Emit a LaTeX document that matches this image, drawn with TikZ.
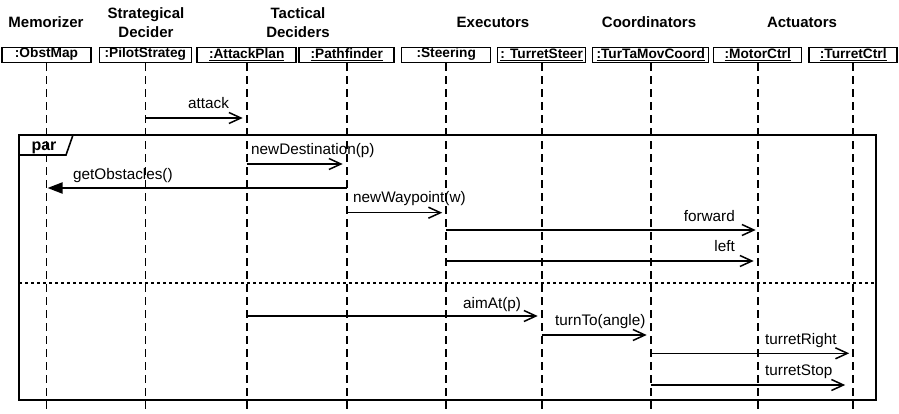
\documentclass[tikz,border=0pt]{standalone}
\usepackage{fontspec}
\setmainfont{Liberation Sans}
\usetikzlibrary{arrows.meta}
\begin{document}
\begin{tikzpicture}[x=1pt,y=-1pt,
  heading/.style={font=\fontsize{15}{19.5}\selectfont\bfseries, align=center, inner sep=0pt},
  obj/.style={draw, line width=1.5pt, minimum height=15pt, inner sep=0pt,
    font=\fontsize{13.7}{16}\selectfont\bfseries},
  lifeline/.style={line width=1.6pt, dash pattern=on 8pt off 5pt},
  msg/.style={line width=1.5pt, -{Straight Barb[length=12pt,width=11pt,line width=1.5pt]}, shorten >=4pt},
  syncmsg/.style={line width=2pt, -{Triangle[length=15pt,width=11pt]}, shorten >=1pt},
  lbl/.style={font=\fontsize{15.3}{18}\selectfont, inner sep=0pt, anchor=base west},
  lblr/.style={lbl, anchor=base east},
  frame/.style={line width=1.6pt},
  divider/.style={line width=1.5pt, dash pattern=on 3pt off 3pt}
]
\useasboundingbox (0,0) rectangle (899,414);

% group headings
\node[heading] (hmem)   at (46,22.5)  {Memorizer};
\node[heading] (hstrat) at (146,22.5) {Strategical\\Decider};
\node[heading] (htact)  at (298,22.5) {Tactical\\Deciders};
\node[heading] (hexec)  at (493,22.5) {Executors};
\node[heading] (hcoord) at (649,22.5) {Coordinators};
\node[heading] (hact)   at (802,22.5) {Actuators};

% objects
\node[obj, minimum width=89pt]  (obst)   at (46.5,55)  {\underline{:ObstMap}};
\node[obj, minimum width=92pt]  (pilot)  at (145.3,55) {\underline{:PilotStrateg}};
\node[obj, minimum width=99pt]  (attack) at (246.7,55) {\underline{:AttackPlan}};
\node[obj, minimum width=95pt]  (path)   at (346.7,55) {\underline{:Pathfinder}};
\node[obj, minimum width=89pt]  (steer)  at (446.2,55) {\underline{:Steering}};
\node[obj, minimum width=88pt]  (tsteer) at (541.7,55) {\underline{: TurretSteer}};
\node[obj, minimum width=116pt] (coord)  at (650.7,55) {\underline{:TurTaMovCoord}};
\node[obj, minimum width=88pt]  (motor)  at (757.7,55) {\underline{:MotorCtrl}};
\node[obj, minimum width=88pt]  (turret) at (853.2,55) {\underline{:TurretCtrl}};

% lifelines
\foreach \o in {obst,pilot,attack,path,steer,tsteer,coord,motor,turret}
  \draw[lifeline] (\o.south) -- (\o.south |- 0,414);

% message before the fragment
\draw[msg] (pilot.south |- 0,118) -- (attack.south |- 0,118);
\node[lbl] (lattack) at (188,109) {attack};

% par fragment
\coordinate (ftl) at (19,135);
\coordinate (fbr) at (876,400);
\draw[frame] (ftl) rectangle (fbr);
\draw[frame] (ftl |- 0,155) -- (66,155) -- (73,135);
\node[font=\fontsize{16}{18}\selectfont\bfseries, inner sep=0pt, anchor=base] (par) at (44,151) {par};
\draw[divider] (ftl |- 0,283) -- (fbr |- 0,283);

% first operand
\draw[msg] (attack.south |- 0,164) -- (path.south |- 0,164);
\node[lbl] (lnewdest) at (251,155) {newDestination(p)};
\draw[syncmsg] (path.south |- 0,188) -- (obst.south |- 0,188);
\node[lbl] (lgetobs) at (73,179) {getObstacles()};
\draw[msg] (path.south |- 0,212.7) -- (steer.south |- 0,212.7);
\node[lbl] (lnewway) at (353,202.7) {newWaypoint(w)};
\draw[msg, shorten >=2pt] (steer.south |- 0,230) -- (motor.south |- 0,230);
\node[lblr] (lfwd) at (735,221.7) {forward};
\draw[msg] (steer.south |- 0,261) -- (motor.south |- 0,261);
\node[lblr] (lleft) at (735,251.7) {left};

% second operand
\draw[msg] (attack.south |- 0,316) -- (tsteer.south |- 0,316);
\node[lbl] (laim) at (463,308.3) {aimAt(p)};
\draw[msg] (tsteer.south |- 0,335) -- (coord.south |- 0,335);
\node[lbl] (lturn) at (555,325.7) {turnTo(angle)};
\draw[msg] (coord.south |- 0,353.3) -- (turret.south |- 0,353.3);
\node[lbl] (lright) at (765,344) {turretRight};
\draw[msg, shorten >=8pt] (coord.south |- 0,385) -- (turret.south |- 0,385);
\node[lbl] (lstop) at (765,375.7) {turretStop};
\end{tikzpicture}
\end{document}
